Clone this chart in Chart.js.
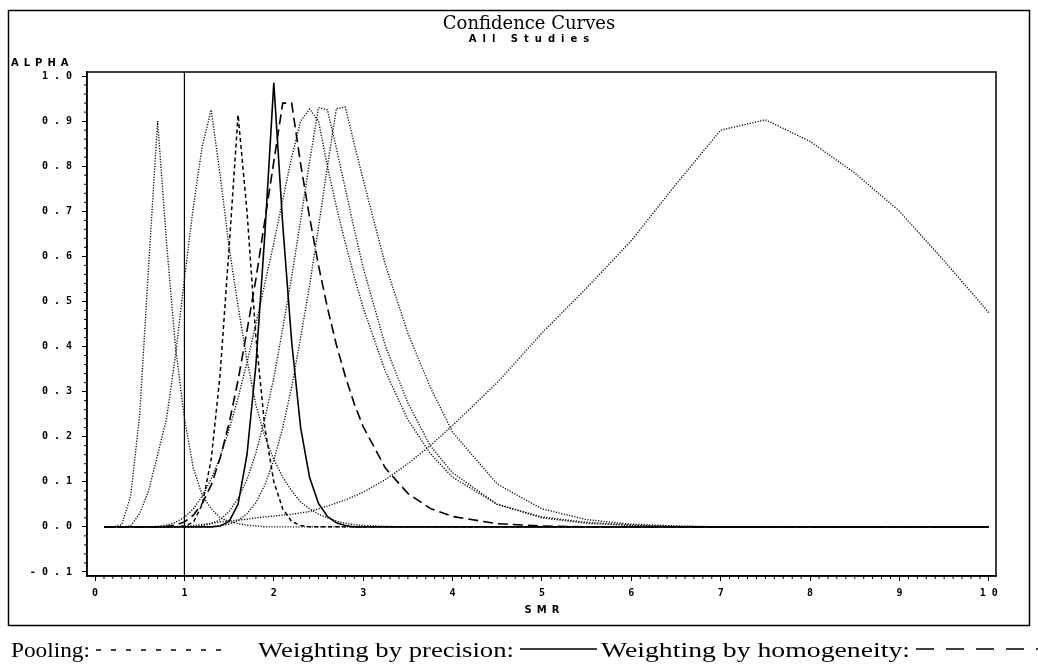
<!DOCTYPE html>
<html>
<head>
<meta charset="utf-8">
<title>Confidence Curves</title>
<script src="https://cdn.jsdelivr.net/npm/chart.js"></script>
<style>
  html, body { margin: 0; padding: 0; background: #fff; }
  #wrap { position: relative; width: 1038px; height: 664px; }
</style>
</head>
<body>
<div id="wrap"><canvas id="myChart"></canvas></div>
<script>
// SMR grid shared by all curves
const smr = [0.1, 0.2, 0.3, 0.4, 0.5, 0.6, 0.7, 0.8, 0.9, 1.0,
             1.1, 1.2, 1.3, 1.4, 1.5, 1.6, 1.7, 1.8, 1.9, 2.0,
             2.1, 2.2, 2.3, 2.4, 2.5, 2.6, 2.7, 2.8, 2.9, 3.0,
             3.25, 3.5, 3.75, 4.0, 4.5, 5.0, 5.5, 6.0, 6.5, 7.0,
             7.5, 8.0, 8.5, 9.0, 9.5, 10.0];

// single studies (dotted)
const studyA = [0, 0, 0.005, 0.07, 0.25, 0.58, 0.90, 0.63, 0.40, 0.24,
                0.13, 0.07, 0.04, 0.02, 0.012, 0.007, 0.004, 0.002, 0, 0,
                0, 0, 0, 0, 0, 0, 0, 0, 0, 0,
                0, 0, 0, 0, 0, 0, 0, 0, 0, 0, 0, 0, 0, 0, 0, 0];
const studyB = [0, 0, 0, 0.002, 0.03, 0.08, 0.16, 0.24, 0.38, 0.55,
                0.71, 0.845, 0.925, 0.78, 0.62, 0.49, 0.37, 0.27, 0.2, 0.15,
                0.11, 0.08, 0.055, 0.04, 0.028, 0.02, 0.013, 0.008, 0.005, 0.003,
                0.001, 0, 0, 0, 0, 0, 0, 0, 0, 0, 0, 0, 0, 0, 0, 0];
const studyC = [0, 0, 0, 0, 0, 0, 0.001, 0.004, 0.01, 0.021,
                0.04, 0.068, 0.107, 0.156, 0.216, 0.286, 0.364, 0.45, 0.54, 0.63,
                0.725, 0.82, 0.90, 0.927, 0.90, 0.80, 0.71, 0.63, 0.555, 0.486,
                0.344, 0.238, 0.163, 0.11, 0.05, 0.022, 0.01, 0.004, 0.001, 0,
                0, 0, 0, 0, 0, 0];
const studyD = [0, 0, 0, 0, 0, 0, 0, 0, 0, 0,
                0, 0.003, 0.007, 0.016, 0.034, 0.063, 0.105, 0.164, 0.24, 0.33,
                0.44, 0.555, 0.68, 0.81, 0.93, 0.925, 0.84, 0.75, 0.66, 0.575,
                0.40, 0.275, 0.18, 0.12, 0.05, 0.02, 0.008, 0.003, 0, 0,
                0, 0, 0, 0, 0, 0];
const studyE = [0, 0, 0, 0, 0, 0, 0, 0, 0, 0,
                0, 0, 0, 0.003, 0.006, 0.014, 0.029, 0.054, 0.093, 0.148,
                0.22, 0.31, 0.42, 0.535, 0.665, 0.80, 0.928, 0.931, 0.85, 0.77,
                0.58, 0.43, 0.31, 0.21, 0.095, 0.04, 0.016, 0.006, 0.002, 0,
                0, 0, 0, 0, 0, 0];
const studyF = [0, 0, 0, 0, 0, 0, 0, 0, 0, 0.002,
                0.003, 0.005, 0.008, 0.011, 0.013, 0.015, 0.017, 0.02, 0.022, 0.024,
                0.026, 0.028, 0.031, 0.034, 0.04, 0.046, 0.053, 0.06, 0.068, 0.077,
                0.105, 0.14, 0.18, 0.225, 0.32, 0.43, 0.53, 0.635, 0.76, 0.88,
                0.903, 0.855, 0.785, 0.70, 0.59, 0.475];

// combined curves
const pooling = [0, 0, 0, 0, 0, 0, 0, 0, 0, 0.002,
                 0.01, 0.05, 0.15, 0.34, 0.62, 0.914, 0.70, 0.42, 0.22, 0.10,
                 0.04, 0.012, 0.003, 0, 0, 0, 0, 0, 0, 0,
                 0, 0, 0, 0, 0, 0, 0, 0, 0, 0, 0, 0, 0, 0, 0, 0];
const precision = [0, 0, 0, 0, 0, 0, 0, 0, 0, 0,
                   0, 0, 0, 0.002, 0.012, 0.05, 0.16, 0.36, 0.65, 0.985,
                   0.67, 0.41, 0.22, 0.11, 0.052, 0.023, 0.009, 0.003, 0, 0,
                   0, 0, 0, 0, 0, 0, 0, 0, 0, 0, 0, 0, 0, 0, 0, 0];
const homogeneity = [0, 0, 0, 0, 0, 0, 0, 0.001, 0.004, 0.011,
                     0.026, 0.052, 0.093, 0.153, 0.23, 0.325, 0.435, 0.55, 0.68, 0.81,
                     0.94, 0.94, 0.805, 0.687, 0.58, 0.486, 0.404, 0.334, 0.273, 0.222,
                     0.13, 0.074, 0.041, 0.023, 0.007, 0.002, 0, 0, 0, 0,
                     0, 0, 0, 0, 0, 0];

const xTickVals = [0, 1, 2, 3, 4, 5, 6, 7, 8, 9, 10];
const yTickVals = [-0.1, 0.0, 0.1, 0.2, 0.3, 0.4, 0.5, 0.6, 0.7, 0.8, 0.9, 1.0];
const refSmr = 1;

function pts(series) {
    return smr.map((x, i) => ({ x: x, y: series[i] }));
}

function spaced(s) {
    return s.split('').join(' ');
}

function dotted(series) {
    return { data: pts(series), borderColor: '#111', borderWidth: 1.4, borderDash: [1.2, 1.5], pointRadius: 0 };
}

const frame = {
    id: 'frame',
    beforeDraw(chart) {
        const ctx = chart.ctx;
        ctx.save();
        ctx.fillStyle = '#fff';
        ctx.fillRect(0, 0, chart.width, chart.height);
        ctx.restore();
    },
    beforeDatasetsDraw(chart) {
        const ctx = chart.ctx, a = chart.chartArea;
        const px = chart.scales.x.getPixelForValue(refSmr);
        ctx.save();
        ctx.strokeStyle = '#000';
        ctx.lineWidth = 1.2;
        ctx.beginPath();
        ctx.moveTo(px, a.top);
        ctx.lineTo(px, a.bottom);
        ctx.stroke();
        ctx.restore();
    },
    afterDraw(chart) {
        const ctx = chart.ctx, a = chart.chartArea;
        const xs = chart.scales.x, ys = chart.scales.y;
        ctx.save();
        ctx.strokeStyle = '#000';
        ctx.fillStyle = '#000';

        // plot box and outer frame
        ctx.lineWidth = 1.5;
        ctx.strokeRect(a.left, a.top, a.right - a.left, a.bottom - a.top);
        ctx.strokeRect(8.5, 10.5, 1021, 615);

        // minor ticks
        ctx.lineWidth = 1;
        ctx.beginPath();
        for (let i = 1; i < 100; i++) {
            if (i % 10 === 0) continue;
            const px = xs.getPixelForValue(i / 10);
            ctx.moveTo(px, a.bottom);
            ctx.lineTo(px, a.bottom + 3);
        }
        for (let i = -4; i < 50; i++) {
            if (i % 5 === 0) continue;
            const py = ys.getPixelForValue(i * 0.02);
            ctx.moveTo(a.left, py);
            ctx.lineTo(a.left - 3, py);
        }
        ctx.stroke();

        // titles
        ctx.textAlign = 'center';
        ctx.textBaseline = 'middle';
        ctx.font = '18px "DejaVu Serif"';
        ctx.fillText('Confidence Curves', 529, 24);
        ctx.font = 'bold 10px "DejaVu Sans"';
        ctx.letterSpacing = '6px';
        ctx.fillText('All Studies', 532, 39);
        ctx.letterSpacing = '5px';
        ctx.fillText('SMR', (a.left + a.right) / 2 + 3, 610);
        ctx.textAlign = 'left';
        ctx.fillText('ALPHA', 11, 63);
        ctx.letterSpacing = '0px';

        // legend under the frame
        ctx.font = '21px "Liberation Serif"';
        ctx.textBaseline = 'alphabetic';
        const fit = (text, x0, x1, y) => {
            const w = ctx.measureText(text).width;
            ctx.save();
            ctx.translate(x0, y);
            ctx.scale((x1 - x0) / w, 1);
            ctx.fillText(text, 0, 0);
            ctx.restore();
        };
        fit('Pooling:', 11, 90, 657);
        fit('Weighting by precision:', 258, 514, 657);
        fit('Weighting by homogeneity:', 601, 910, 657);

        ctx.lineWidth = 1.5;
        ctx.setLineDash([5, 10]);
        ctx.beginPath(); ctx.moveTo(96, 650); ctx.lineTo(222, 650); ctx.stroke();
        ctx.setLineDash([]);
        ctx.beginPath(); ctx.moveTo(520, 649); ctx.lineTo(597, 649); ctx.stroke();
        ctx.setLineDash([18, 12]);
        ctx.beginPath(); ctx.moveTo(916, 649); ctx.lineTo(1038, 649); ctx.stroke();
        ctx.restore();
    }
};

const tickFont = { family: 'DejaVu Sans Mono', weight: 'bold', size: 10 };

new Chart(document.getElementById('myChart'), {
    type: 'line',
    data: {
        datasets: [
            { data: pts(precision), borderColor: '#000', borderWidth: 1.6, pointRadius: 0 },
            { data: pts(homogeneity), borderColor: '#000', borderWidth: 1.6, borderDash: [10, 5], pointRadius: 0 },
            { data: pts(pooling), borderColor: '#000', borderWidth: 1.5, borderDash: [4, 3], pointRadius: 0 },
            dotted(studyA),
            dotted(studyB),
            dotted(studyC),
            dotted(studyD),
            dotted(studyE),
            dotted(studyF)
        ]
    },
    options: {
        responsive: true,
        maintainAspectRatio: false,
        animation: false,
        layout: { padding: { left: 0, top: 72, right: 42, bottom: 38 } },
        plugins: {
            legend: { display: false },
            tooltip: { enabled: false },
            title: { display: false }
        },
        scales: {
            x: {
                type: 'linear',
                min: -0.09,
                max: 10.08,
                afterFit: s => { s.height = 50; },
                afterBuildTicks: s => { s.ticks = xTickVals.map(v => ({ value: v })); },
                grid: { display: true, drawOnChartArea: false, drawTicks: true, tickLength: 5, color: '#000', lineWidth: 1 },
                border: { display: true, color: '#000', width: 1.5 },
                ticks: {
                    font: tickFont, color: '#000', padding: 6, maxRotation: 0, autoSkip: false,
                    callback: v => spaced(String(v))
                }
            },
            y: {
                type: 'linear',
                min: -0.109,
                max: 1.009,
                afterFit: s => { s.width = 87; },
                afterBuildTicks: s => { s.ticks = yTickVals.map(v => ({ value: v })); },
                grid: { display: true, drawOnChartArea: false, drawTicks: true, tickLength: 5, color: '#000', lineWidth: 1 },
                border: { display: true, color: '#000', width: 1.5 },
                ticks: {
                    font: tickFont, color: '#000', padding: 10, autoSkip: false,
                    callback: v => spaced(v.toFixed(1))
                }
            }
        }
    },
    plugins: [frame]
});
</script>
</body>
</html>
